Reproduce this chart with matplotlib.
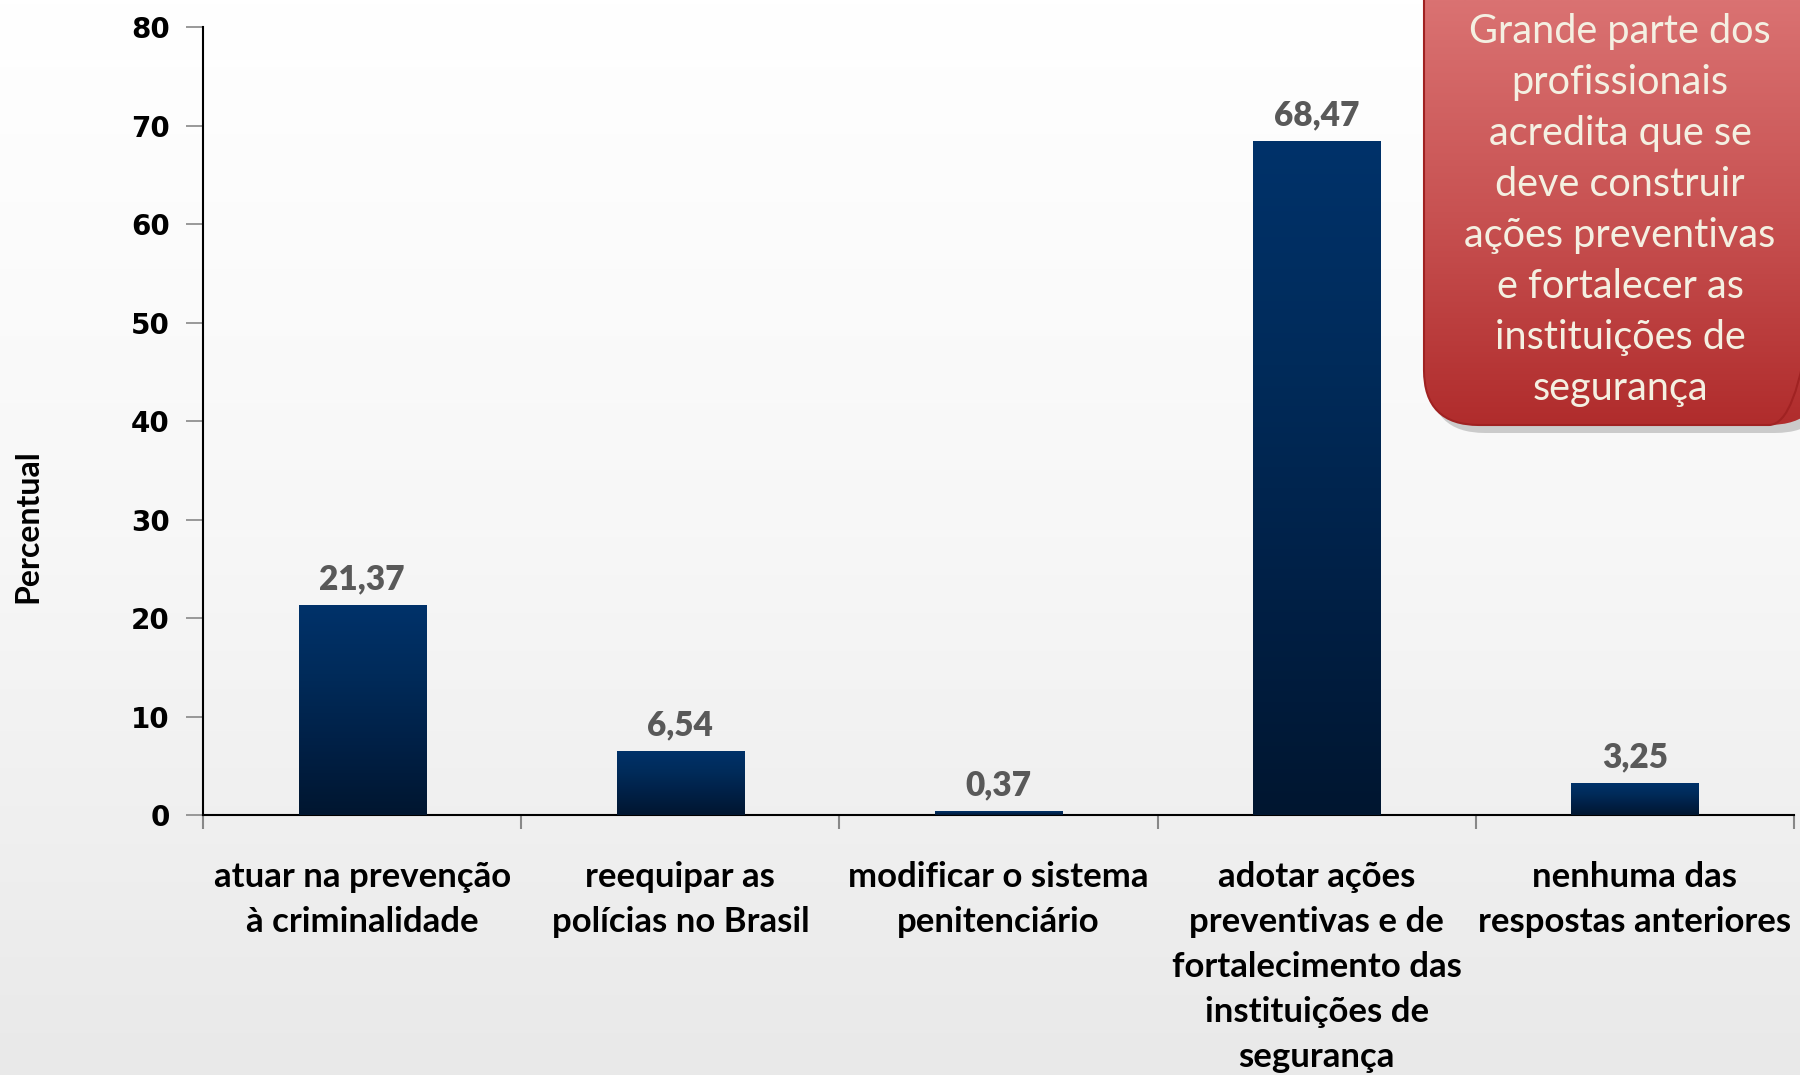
import numpy as np
import matplotlib
matplotlib.use("Agg")
import matplotlib.pyplot as plt
from matplotlib.patches import FancyBboxPatch
from matplotlib.colors import LinearSegmentedColormap

categories = [
    "atuar na prevenção\nà criminalidade",
    "reequipar as\npolícias no Brasil",
    "modificar o sistema\npenitenciário",
    "adotar ações\npreventivas e de\nfortalecimento das\ninstituições de\nsegurança",
    "nenhuma das\nrespostas anteriores",
]
values = [21.37, 6.54, 0.37, 68.47, 3.25]
value_labels = ["21,37", "6,54", "0,37", "68,47", "3,25"]
yticks = [0, 10, 20, 30, 40, 50, 60, 70, 80]
ylabel = "Percentual"
note = ("Grande parte dos\nprofissionais\nacredita que se\ndeve construir\n"
        "ações preventivas\ne fortalecer as\ninstituições de\nsegurança")

W, H = 1800, 1075
fig = plt.figure(figsize=(W / 100, H / 100), dpi=100)

# background gradient
bg = fig.add_axes([0, 0, 1, 1], zorder=0)
bg.set_axis_off()
grad = np.linspace(0, 1, 256)[:, None]
bgcmap = LinearSegmentedColormap.from_list("bg", ["#ffffff", "#f7f7f7", "#e9e9e9"])
bg.imshow(grad, aspect="auto", cmap=bgcmap, extent=[0, 1, 0, 1], origin="upper")
bg.set_xlim(0, 1)
bg.set_ylim(0, 1)

ax = fig.add_axes([0.1128, 0.2419, 0.8839, 0.7326], zorder=2)
ax.patch.set_alpha(0)
x = np.arange(len(values))
bars = ax.bar(x, values, width=0.4, color="none", edgecolor="none", zorder=3)
barcmap = LinearSegmentedColormap.from_list("bar", ["#00326a", "#002b5a", "#002046", "#001630"])
for b in bars:
    x0, y0 = b.get_x(), b.get_y()
    w, h = b.get_width(), b.get_height()
    im = ax.imshow(grad, aspect="auto", cmap=barcmap, extent=[x0, x0 + w, y0, y0 + h],
                   origin="upper", zorder=3)
    im.set_clip_path(b)

for xi, v, lab in zip(x, values, value_labels):
    ax.annotate(lab, (xi, v), xytext=(0, 7), textcoords="offset points",
                ha="center", va="bottom", fontsize=24, fontweight="heavy",
                color="#595959", family="Lato", zorder=4)

ax.set_xlim(-0.5, 4.5)
ax.set_ylim(0, 80)
ax.set_yticks(yticks)
ax.set_yticklabels([str(t) for t in yticks], fontsize=20, fontweight="bold",
                   family="DejaVu Sans")
ax.set_xticks(x)
ax.set_xticklabels(categories, fontsize=25, fontweight="bold", family="Lato",
                   linespacing=1.5, va="top")
ax.set_xticks(np.arange(-0.5, 5, 1), minor=True)
ax.tick_params(axis="x", which="major", length=0, pad=33)
ax.tick_params(axis="x", which="minor", length=10, color="#888888", width=1.5, direction="out")
ax.tick_params(axis="y", length=12, color="#888888", width=1.2, pad=12)
for s in ["top", "right"]:
    ax.spines[s].set_visible(False)
ax.spines["left"].set_linewidth(1.5)
ax.spines["bottom"].set_linewidth(1.5)
ax.set_ylabel(ylabel, fontsize=23, fontweight="bold", family="Lato", labelpad=0)
ax.yaxis.set_label_coords(-0.101, 0.367, transform=ax.transAxes)

# note box
ov = fig.add_axes([0, 0, 1, 1], zorder=5)
ov.set_axis_off()
ov.set_xlim(0, W)
ov.set_ylim(H, 0)
shadow = FancyBboxPatch((1430, -60), 400, 493, boxstyle="round,pad=0,rounding_size=55",
                        facecolor="#666666", edgecolor="none", alpha=0.3, zorder=1)
ov.add_patch(shadow)
box = FancyBboxPatch((1424, -60), 400, 485, boxstyle="round,pad=0,rounding_size=55",
                     facecolor="none", edgecolor="#a02222", linewidth=1.5, zorder=3)
ov.add_patch(box)
redcmap = LinearSegmentedColormap.from_list("red", ["#da7272", "#c85252", "#b02c2c"])
im = ov.imshow(grad, aspect="auto", cmap=redcmap, extent=[1424, 1824, 425, 0],
               origin="upper", zorder=2)
im.set_clip_path(box)
ov.text(1620, 210, note, ha="center", va="center", fontsize=28.5, family="Lato",
        color="#f4f0e2", linespacing=1.465, zorder=4)

fig.savefig("out.png", dpi=100)
